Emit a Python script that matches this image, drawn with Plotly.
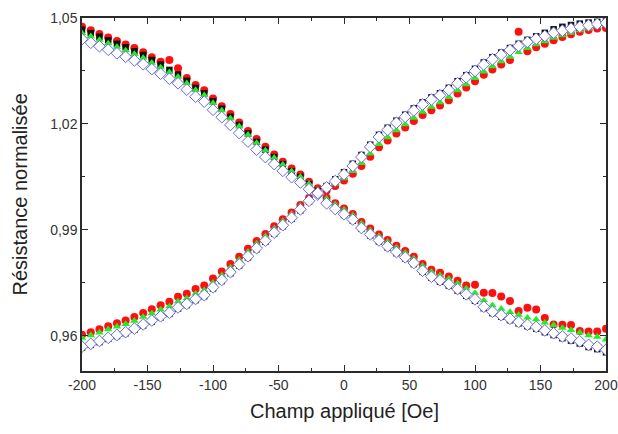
import plotly.graph_objects as go

# Applied field (Oe)
field = [-200.0, -193.3, -186.7, -180.0, -173.3, -166.7, -160.0, -153.3, -146.7, -140.0,
         -133.3, -126.7, -120.0, -113.3, -106.7, -100.0, -93.3, -86.7, -80.0, -73.3,
         -66.7, -60.0, -53.3, -46.7, -40.0, -33.3, -26.7, -20.0, -13.3, -6.7,
         0.0, 6.7, 13.3, 20.0, 26.7, 33.3, 40.0, 46.7, 53.3, 60.0,
         66.7, 73.3, 80.0, 86.7, 93.3, 100.0, 106.7, 113.3, 120.0, 126.7,
         133.3, 140.0, 146.7, 153.3, 160.0, 166.7, 173.3, 180.0, 186.7, 193.3, 200.0]

# Decreasing branches
black_dec = [1.0467, 1.0457, 1.0447, 1.0437, 1.0427, 1.0417, 1.0406, 1.0395, 1.0381, 1.0368,
             1.0353, 1.0340, 1.0322, 1.0302, 1.0287, 1.0264, 1.0243, 1.0220, 1.0197, 1.0173,
             1.0149, 1.0127, 1.0106, 1.0086, 1.0066, 1.0050, 1.0029, 1.0010, 0.9980, 0.9960,
             0.9942, 0.9926, 0.9903, 0.9884, 0.9867, 0.9850, 0.9834, 0.9819, 0.9803, 0.9781,
             0.9764, 0.9753, 0.9742, 0.9728, 0.9713, 0.9699, 0.9678, 0.9664, 0.9654, 0.9644,
             0.9635, 0.9627, 0.9620, 0.9610, 0.9602, 0.9593, 0.9586, 0.9578, 0.9568, 0.9562, 0.9553]
red_dec = [1.0475, 1.0465, 1.0455, 1.0445, 1.0435, 1.0425, 1.0415, 1.0403, 1.0389, 1.0376,
           1.0381, 1.0358, 1.0330, 1.0310, 1.0295, 1.0272, 1.0250, 1.0228, 1.0204, 1.0180,
           1.0157, 1.0135, 1.0113, 1.0093, 1.0074, 1.0057, 1.0036, 1.0018, 0.9991, 0.9975,
           0.9960, 0.9945, 0.9922, 0.9904, 0.9887, 0.9871, 0.9855, 0.9840, 0.9824, 0.9803,
           0.9787, 0.9778, 0.9768, 0.9756, 0.9742, 0.9744, 0.9722, 0.9721, 0.9711, 0.9698,
           0.9670, 0.9679, 0.9674, 0.9650, 0.9632, 0.9631, 0.9630, 0.9613, 0.9612, 0.9612, 0.9620]
green_dec = [1.0457, 1.0448, 1.0438, 1.0428, 1.0418, 1.0408, 1.0398, 1.0387, 1.0373, 1.0360,
             1.0346, 1.0333, 1.0315, 1.0296, 1.0281, 1.0259, 1.0238, 1.0216, 1.0193, 1.0169,
             1.0146, 1.0125, 1.0104, 1.0085, 1.0066, 1.0050, 1.0030, 1.0013, 0.9988, 0.9972,
             0.9957, 0.9941, 0.9918, 0.9899, 0.9882, 0.9866, 0.9850, 0.9835, 0.9819, 0.9798,
             0.9781, 0.9771, 0.9761, 0.9748, 0.9734, 0.9721, 0.9700, 0.9686, 0.9676, 0.9667,
             0.9659, 0.9651, 0.9646, 0.9637, 0.9630, 0.9622, 0.9616, 0.9609, 0.9601, 0.9597, 0.9589]
blue_dec = [1.0440, 1.0430, 1.0420, 1.0410, 1.0400, 1.0390, 1.0380, 1.0369, 1.0355, 1.0342,
            1.0328, 1.0315, 1.0297, 1.0277, 1.0263, 1.0240, 1.0219, 1.0197, 1.0174, 1.0150,
            1.0127, 1.0106, 1.0086, 1.0067, 1.0049, 1.0034, 1.0015, 1.0000, 0.9975, 0.9959,
            0.9944, 0.9929, 0.9905, 0.9887, 0.9870, 0.9853, 0.9837, 0.9822, 0.9806, 0.9784,
            0.9767, 0.9757, 0.9746, 0.9732, 0.9717, 0.9703, 0.9682, 0.9668, 0.9658, 0.9648,
            0.9639, 0.9631, 0.9625, 0.9615, 0.9607, 0.9598, 0.9592, 0.9584, 0.9574, 0.9569, 0.9560]

# Increasing branches
black_inc = [0.9566, 0.9574, 0.9582, 0.9591, 0.9599, 0.9607, 0.9617, 0.9629, 0.9640, 0.9652,
             0.9662, 0.9677, 0.9687, 0.9701, 0.9712, 0.9734, 0.9755, 0.9777, 0.9799, 0.9822,
             0.9845, 0.9866, 0.9889, 0.9910, 0.9931, 0.9955, 0.9980, 1.0004, 1.0024, 1.0043,
             1.0063, 1.0087, 1.0112, 1.0141, 1.0169, 1.0189, 1.0209, 1.0226, 1.0244, 1.0261,
             1.0275, 1.0287, 1.0302, 1.0321, 1.0338, 1.0356, 1.0374, 1.0389, 1.0402, 1.0415,
             1.0427, 1.0438, 1.0448, 1.0458, 1.0468, 1.0475, 1.0480, 1.0484, 1.0487, 1.0489, 1.0490]
red_inc = [0.9603, 0.9610, 0.9618, 0.9627, 0.9635, 0.9643, 0.9653, 0.9664, 0.9675, 0.9686,
           0.9696, 0.9710, 0.9719, 0.9732, 0.9742, 0.9762, 0.9782, 0.9803, 0.9824, 0.9846,
           0.9868, 0.9888, 0.9910, 0.9930, 0.9949, 0.9970, 0.9990, 1.0003, 1.0011, 1.0024,
           1.0040, 1.0059, 1.0081, 1.0107, 1.0134, 1.0153, 1.0173, 1.0190, 1.0208, 1.0225,
           1.0239, 1.0252, 1.0267, 1.0286, 1.0303, 1.0321, 1.0339, 1.0354, 1.0368, 1.0381,
           1.0461, 1.0406, 1.0417, 1.0427, 1.0437, 1.0446, 1.0454, 1.0461, 1.0466, 1.0470, 1.0472]
green_inc = [0.9594, 0.9601, 0.9609, 0.9618, 0.9626, 0.9633, 0.9642, 0.9653, 0.9663, 0.9674,
             0.9683, 0.9697, 0.9706, 0.9719, 0.9729, 0.9750, 0.9771, 0.9793, 0.9815, 0.9838,
             0.9861, 0.9882, 0.9904, 0.9925, 0.9945, 0.9968, 0.9990, 1.0005, 1.0016, 1.0030,
             1.0046, 1.0066, 1.0089, 1.0116, 1.0143, 1.0162, 1.0182, 1.0199, 1.0217, 1.0234,
             1.0248, 1.0261, 1.0276, 1.0295, 1.0312, 1.0330, 1.0348, 1.0363, 1.0377, 1.0390,
             1.0403, 1.0415, 1.0425, 1.0434, 1.0444, 1.0451, 1.0458, 1.0465, 1.0470, 1.0476, 1.0480]
blue_inc = [0.9569, 0.9577, 0.9585, 0.9594, 0.9602, 0.9610, 0.9620, 0.9632, 0.9643, 0.9655,
            0.9665, 0.9680, 0.9690, 0.9704, 0.9715, 0.9737, 0.9758, 0.9780, 0.9802, 0.9825,
            0.9848, 0.9869, 0.9892, 0.9913, 0.9934, 0.9958, 0.9982, 1.0004, 1.0020, 1.0038,
            1.0057, 1.0081, 1.0106, 1.0135, 1.0163, 1.0183, 1.0203, 1.0220, 1.0238, 1.0255,
            1.0269, 1.0281, 1.0296, 1.0315, 1.0332, 1.0350, 1.0368, 1.0383, 1.0396, 1.0409,
            1.0421, 1.0432, 1.0441, 1.0449, 1.0458, 1.0464, 1.0470, 1.0475, 1.0479, 1.0483, 1.0486]

x_ticks = [-200, -150, -100, -50, 0, 50, 100, 150, 200]
x_tick_text = ["-200", "-150", "-100", "-50", "0", "50", "100", "150", "200"]
y_ticks = [0.96, 0.99, 1.02, 1.05]
y_tick_text = ["0,96", "0,99", "1,02", "1,05"]

series = [
    ("red", red_dec, red_inc, dict(symbol="circle", size=8, color="#ff1010")),
    ("black", black_dec, black_inc, dict(symbol="square", size=6.5, color="#111111")),
    ("green", green_dec, green_inc, dict(symbol="triangle-up", size=7.5, color="#22ee22")),
    ("blue", blue_dec, blue_inc, dict(symbol="diamond", size=9, color="white",
                                      line=dict(color="#6a6ad8", width=1))),
]

fig = go.Figure()
for name, dec, inc, mk in series:
    for ys in (dec, inc):
        fig.add_trace(go.Scatter(x=field, y=ys, mode="markers", marker=mk,
                                 name=name, showlegend=False))

font_family = "Liberation Sans, Arial, sans-serif"
axis_common = dict(
    showline=True, linecolor="#2a2a2a", linewidth=1.5, mirror="ticks",
    ticks="inside", ticklen=6, tickwidth=1.3, tickcolor="#2a2a2a",
    showgrid=False, zeroline=False, automargin=False,
    tickfont=dict(family=font_family, size=14, color="#333333"),
)

fig.update_layout(
    width=618, height=434,
    margin=dict(l=82, r=12, t=18, b=63),
    paper_bgcolor="white", plot_bgcolor="white",
    xaxis=dict(range=[-200, 200], tickvals=x_ticks, ticktext=x_tick_text,
               minor=dict(tickvals=[-175, -125, -75, -25, 25, 75, 125, 175],
                          ticks="inside", ticklen=3, tickwidth=1.2, tickcolor="#2a2a2a"),
               **axis_common),
    yaxis=dict(range=[0.95, 1.05], tickvals=y_ticks, ticktext=y_tick_text,
               minor=dict(tickvals=[0.975, 1.005, 1.035],
                          ticks="inside", ticklen=3, tickwidth=1.2, tickcolor="#2a2a2a"),
               **axis_common),
    annotations=[
        dict(text="Champ appliqué [Oe]", xref="paper", yref="paper", x=0.5, y=0,
             yshift=-40, xanchor="center", yanchor="middle", showarrow=False,
             font=dict(family=font_family, size=20, color="#222222")),
        dict(text="Résistance normalisée", xref="paper", yref="paper", x=0, y=0.5,
             xshift=-63, xanchor="center", yanchor="middle", textangle=-90, showarrow=False,
             font=dict(family=font_family, size=20, color="#222222")),
    ],
)

# remove the default page margin so the figure fills the window exactly
fig.write_html("out.html", config={"displayModeBar": False},
               post_script="document.body.style.margin='0';document.body.style.overflow='hidden';")
